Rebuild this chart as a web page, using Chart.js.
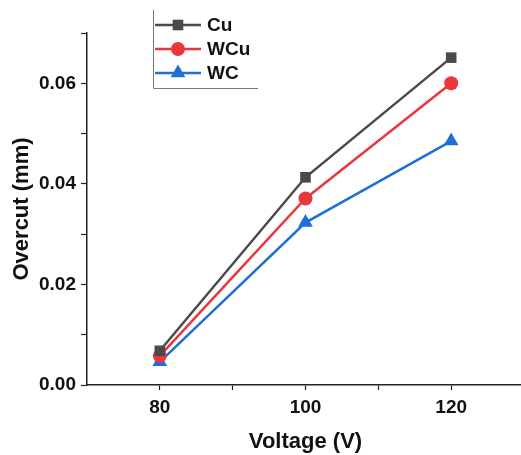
<!DOCTYPE html>
<html>
<head>
<meta charset="utf-8">
<script src="https://cdn.jsdelivr.net/npm/chart.js@4"></script>
<style>
  html, body { margin: 0; padding: 0; background: #fff; overflow: hidden; }
</style>
</head>
<body>
<canvas id="chart" width="524" height="455"></canvas>
<script>
// values
const voltages = [80, 100, 120];
const cuValues = [0.0068, 0.0413, 0.0651];
const wcuValues = [0.0058, 0.0371, 0.0600];
const wcValues = [0.0046, 0.0323, 0.0485];
const xTicks = [80, 90, 100, 110, 120];
const seriesNames = ['Cu', 'WCu', 'WC'];

const fontFamily = '"Liberation Sans", Arial, sans-serif';

function toPoints(values) {
  return voltages.map((v, i) => ({ x: v, y: values[i] }));
}

// legend box in the top left of the plot: only left and bottom edges shown
const legendPlugin = {
  id: 'boxLegend',
  afterDraw(chart) {
    const ctx = chart.ctx;
    ctx.save();
    ctx.strokeStyle = '#777';
    ctx.lineWidth = 1;
    ctx.beginPath();
    ctx.moveTo(153.5, 10);
    ctx.lineTo(153.5, 88.5);
    ctx.lineTo(258, 88.5);
    ctx.stroke();

    const rows = [25, 49, 73];
    chart.data.datasets.forEach((ds, i) => {
      const y = rows[i];
      ctx.strokeStyle = ds.borderColor;
      ctx.lineWidth = 2.5;
      ctx.beginPath();
      ctx.moveTo(155, y);
      ctx.lineTo(201, y);
      ctx.stroke();
      ctx.fillStyle = ds.backgroundColor;
      ctx.strokeStyle = ds.borderColor;
      Chart.helpers.drawPoint(ctx, {
        pointStyle: ds.pointStyle,
        radius: ds.pointRadius,
        rotation: 0,
        borderWidth: 0
      }, 178, y);
      ctx.fillStyle = '#111';
      ctx.font = 'bold 19px ' + fontFamily;
      ctx.textBaseline = 'middle';
      ctx.textAlign = 'left';
      ctx.fillText(ds.label, 207, y + 1);
    });
    ctx.restore();
  }
};

const ctx = document.getElementById('chart').getContext('2d');
new Chart(ctx, {
  type: 'line',
  data: {
    datasets: [
      {
        label: seriesNames[0],
        data: toPoints(cuValues),
        borderColor: '#4a4a4a',
        backgroundColor: '#4a4a4a',
        borderWidth: 2.5,
        pointStyle: 'rect',
        pointRadius: 7.5,
        pointBorderWidth: 0
      },
      {
        label: seriesNames[1],
        data: toPoints(wcuValues),
        borderColor: '#e8383d',
        backgroundColor: '#e8383d',
        borderWidth: 2.5,
        pointStyle: 'circle',
        pointRadius: 7,
        pointBorderWidth: 0
      },
      {
        label: seriesNames[2],
        data: toPoints(wcValues),
        borderColor: '#1f6fd6',
        backgroundColor: '#1f6fd6',
        borderWidth: 2.5,
        pointStyle: 'triangle',
        pointRadius: 8.5,
        pointBorderWidth: 0
      }
    ]
  },
  options: {
    responsive: false,
    animation: false,
    layout: {
      autoPadding: false,
      padding: { top: 33, left: 0, right: 0, bottom: 0 }
    },
    plugins: {
      legend: { display: false },
      tooltip: { enabled: false }
    },
    scales: {
      x: {
        type: 'linear',
        min: 70,
        max: 130,
        afterBuildTicks(scale) {
          scale.ticks = xTicks.map(v => ({ value: v }));
        },
        afterFit(scale) {
          scale.height = 70;
          scale.paddingRight = 0;
          scale.paddingLeft = 0;
        },
        grid: {
          drawOnChartArea: false,
          drawTicks: true,
          tickLength: 5,
          tickColor: '#222',
          tickWidth: 1.2
        },
        border: { color: '#222', width: 1.5 },
        ticks: {
          color: '#111',
          padding: 6,
          maxRotation: 0,
          font: { family: fontFamily, size: 19, weight: 'bold' },
          callback: (v) => (v % 20 === 0 ? String(v) : '')
        },
        title: {
          display: true,
          text: 'Voltage (V)',
          color: '#111',
          padding: { top: 0, bottom: 0 },
          font: { family: fontFamily, size: 22, weight: 'bold', lineHeight: 1.2 }
        }
      },
      y: {
        min: 0,
        max: 0.07,
        afterFit(scale) { scale.width = 87; },
        grid: {
          drawOnChartArea: false,
          drawTicks: true,
          tickLength: 6,
          tickColor: '#222',
          tickWidth: 1.2
        },
        border: { color: '#222', width: 1.5 },
        ticks: {
          stepSize: 0.01,
          color: '#111',
          padding: 5,
          font: { family: fontFamily, size: 19, weight: 'bold' },
          callback: (v, i) => (i % 2 === 0 ? v.toFixed(2) : '')
        },
        title: {
          display: true,
          text: 'Overcut (mm)',
          color: '#111',
          padding: { top: 9, bottom: 0 },
          font: { family: fontFamily, size: 22, weight: 'bold', lineHeight: 1.2 }
        }
      }
    }
  },
  plugins: [legendPlugin]
});
</script>
</body>
</html>
